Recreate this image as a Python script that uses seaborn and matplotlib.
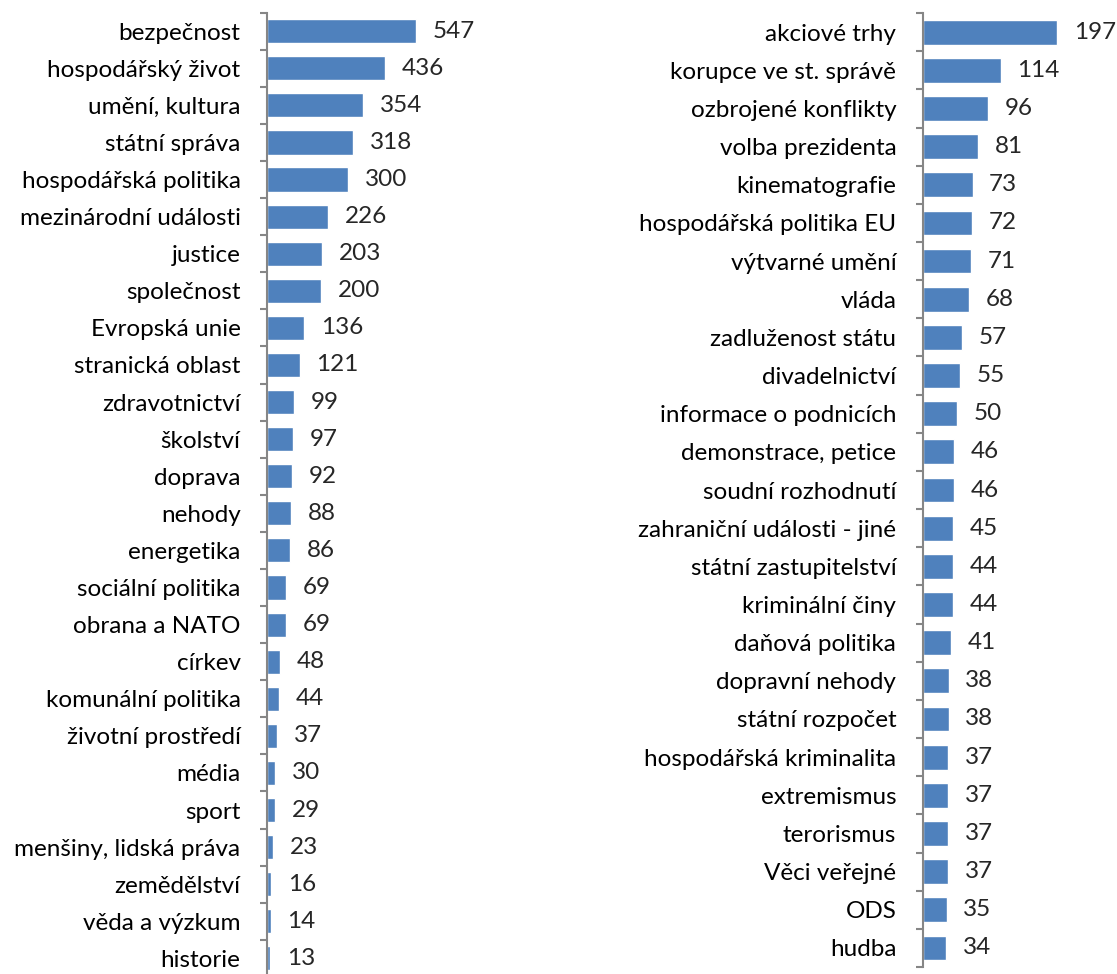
import matplotlib
matplotlib.use("Agg")
import matplotlib.pyplot as plt
import seaborn as sns
import pandas as pd
import numpy as np

# Data
left_topics = ["bezpečnost", "hospodářský život", "umění, kultura", "státní správa",
               "hospodářská politika", "mezinárodní události", "justice", "společnost",
               "Evropská unie", "stranická oblast", "zdravotnictví", "školství", "doprava",
               "nehody", "energetika", "sociální politika", "obrana a NATO", "církev",
               "komunální politika", "životní prostředí", "média", "sport",
               "menšiny, lidská práva", "zemědělství", "věda a výzkum", "historie"]
left_counts = [547, 436, 354, 318, 300, 226, 203, 200, 136, 121, 99, 97, 92, 88, 86,
               69, 69, 48, 44, 37, 30, 29, 23, 16, 14, 13]

right_topics = ["akciové trhy", "korupce ve st. správě", "ozbrojené konflikty",
                "volba prezidenta", "kinematografie", "hospodářská politika EU",
                "výtvarné umění", "vláda", "zadluženost státu", "divadelnictví",
                "informace o podnicích", "demonstrace, petice", "soudní rozhodnutí",
                "zahraniční události - jiné", "státní zastupitelství", "kriminální činy",
                "daňová politika", "dopravní nehody", "státní rozpočet",
                "hospodářská kriminalita", "extremismus", "terorismus", "Věci veřejné",
                "ODS", "hudba"]
right_counts = [197, 114, 96, 81, 73, 72, 71, 68, 57, 55, 50, 46, 46, 45, 44, 44, 41,
                38, 38, 37, 37, 37, 37, 35, 34]

BAR_COLOR = "#4F81BD"
AXIS_COLOR = "#868686"
FONT_SIZE = 17.5

sns.set_style("white")
plt.rcParams["font.family"] = ["Lato", "DejaVu Sans"]

fig = plt.figure(figsize=(11.17, 9.74), dpi=100)
ax_left = fig.add_axes([0.239, -0.003, 0.144, 0.99])
ax_right = fig.add_axes([0.826, 0.0072, 0.153, 0.9794])


def draw_panel(ax, topics, counts, xmax):
    df = pd.DataFrame({"topic": topics, "count": counts})
    sns.barplot(data=df, x="count", y="topic", orient="h", color=BAR_COLOR,
                width=0.65, ax=ax, saturation=1)
    n = len(topics)
    ax.set_xlim(0, xmax)
    ax.set_ylim(n - 0.5, -0.5)
    ax.set_xlabel("")
    ax.set_ylabel("")
    ax.set_xticks([])
    for s in ["top", "right", "bottom"]:
        ax.spines[s].set_visible(False)
    ax.spines["left"].set_color(AXIS_COLOR)
    ax.spines["left"].set_linewidth(1.5)
    ax.tick_params(axis="y", which="major", left=True, length=0, pad=19,
                   labelsize=FONT_SIZE, labelcolor="black")
    # category separators as outward tick marks
    ax.set_yticks(np.arange(n + 1) - 0.5, minor=True)
    ax.tick_params(axis="y", which="minor", left=True, length=5, width=1.5,
                   color=AXIS_COLOR, direction="out")
    for i, v in enumerate(counts):
        ax.annotate(str(v), (v, i), xytext=(12, 0), textcoords="offset points",
                    va="center", ha="left", fontsize=FONT_SIZE, annotation_clip=False)
    ax.patch.set_alpha(0)


draw_panel(ax_left, left_topics, left_counts, 592)
draw_panel(ax_right, right_topics, right_counts, 250)

fig.savefig("out.png", dpi=100)
